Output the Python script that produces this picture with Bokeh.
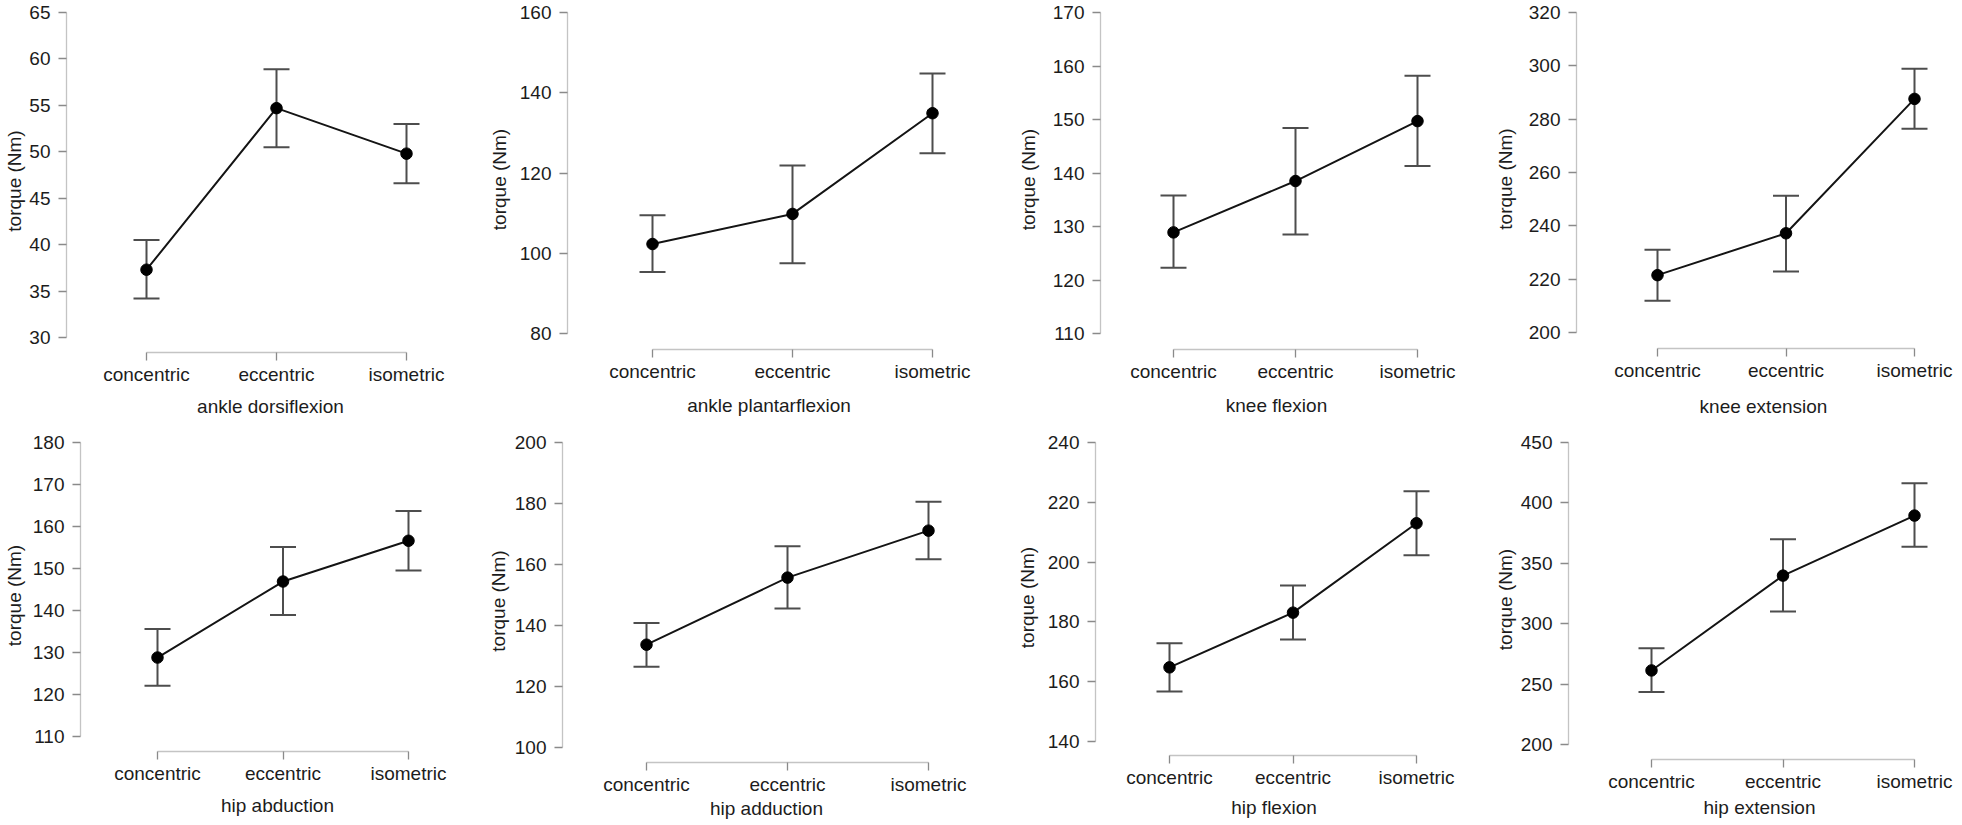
from bokeh.plotting import figure
from bokeh.layouts import column, row
from bokeh.models import FixedTicker, Whisker, TeeHead, ColumnDataSource
from bokeh.embed import file_html
from bokeh.resources import INLINE

# ---------------- data ----------------
conditions = ["concentric", "eccentric", "isometric"]
movements = ["ankle dorsiflexion", "ankle plantarflexion", "knee flexion", "knee extension",
             "hip abduction", "hip adduction", "hip flexion", "hip extension"]
y_label = "torque (Nm)"

ankle_dorsiflexion_mean = [37.3, 54.7, 49.8]
ankle_dorsiflexion_upper = [40.5, 58.9, 53.0]
ankle_dorsiflexion_lower = [34.2, 50.5, 46.6]
ankle_dorsiflexion_ticks = [30, 35, 40, 45, 50, 55, 60, 65]

ankle_plantarflexion_mean = [102.3, 109.8, 134.9]
ankle_plantarflexion_upper = [109.5, 121.9, 144.8]
ankle_plantarflexion_lower = [95.3, 97.5, 124.9]
ankle_plantarflexion_ticks = [80, 100, 120, 140, 160]

knee_flexion_mean = [128.9, 138.5, 149.7]
knee_flexion_upper = [135.8, 148.4, 158.2]
knee_flexion_lower = [122.3, 128.5, 141.3]
knee_flexion_ticks = [110, 120, 130, 140, 150, 160, 170]

knee_extension_mean = [221.5, 237.2, 287.6]
knee_extension_upper = [231.0, 251.3, 298.9]
knee_extension_lower = [211.9, 222.9, 276.4]
knee_extension_ticks = [200, 220, 240, 260, 280, 300, 320]

hip_abduction_mean = [128.8, 146.9, 156.6]
hip_abduction_upper = [135.6, 155.1, 163.7]
hip_abduction_lower = [122.1, 138.9, 149.5]
hip_abduction_ticks = [110, 120, 130, 140, 150, 160, 170, 180]

hip_adduction_mean = [133.7, 155.7, 171.1]
hip_adduction_upper = [140.8, 166.0, 180.6]
hip_adduction_lower = [126.5, 145.6, 161.7]
hip_adduction_ticks = [100, 120, 140, 160, 180, 200]

hip_flexion_mean = [164.8, 183.1, 213.0]
hip_flexion_upper = [172.9, 192.2, 223.7]
hip_flexion_lower = [156.7, 174.1, 202.3]
hip_flexion_ticks = [140, 160, 180, 200, 220, 240]

hip_extension_mean = [261.3, 339.8, 389.5]
hip_extension_upper = [279.6, 369.9, 416.3]
hip_extension_lower = [243.4, 310.0, 363.6]
hip_extension_ticks = [200, 250, 300, 350, 400, 450]

means = [ankle_dorsiflexion_mean, ankle_plantarflexion_mean, knee_flexion_mean, knee_extension_mean,
         hip_abduction_mean, hip_adduction_mean, hip_flexion_mean, hip_extension_mean]
uppers = [ankle_dorsiflexion_upper, ankle_plantarflexion_upper, knee_flexion_upper, knee_extension_upper,
          hip_abduction_upper, hip_adduction_upper, hip_flexion_upper, hip_extension_upper]
lowers = [ankle_dorsiflexion_lower, ankle_plantarflexion_lower, knee_flexion_lower, knee_extension_lower,
          hip_abduction_lower, hip_adduction_lower, hip_flexion_lower, hip_extension_lower]
ticks = [ankle_dorsiflexion_ticks, ankle_plantarflexion_ticks, knee_flexion_ticks, knee_extension_ticks,
         hip_abduction_ticks, hip_adduction_ticks, hip_flexion_ticks, hip_extension_ticks]

# ---------------- layout (page pixels) ----------------
FONT = "Liberation Sans"
FS = 19
HALF_BOX = 13.5          # half of the text box height Bokeh reserves for a 19px label
TICK_STANDOFF = 3
COL_X = [0, 484, 980, 1462]
COL_W = [484, 496, 482, 498]
ROW_Y = [0, 424]
ROW_H = [424, 400]
# per panel: y-axis x, first tick x, last tick x, top tick y, bottom tick y, x-axis y,
#            y-label distance, x-label distance
panel_geo = [
    (66, 146, 406, 12, 337, 352, 52, 60),
    (567, 652, 932, 12, 333, 349, 68, 62),
    (1100, 1173, 1417, 12, 333, 349, 72, 62),
    (1576, 1657, 1914, 12, 332, 348, 71, 64),
    (80, 157, 408, 442, 736, 751, 66, 60),
    (562, 646, 928, 442, 747, 762, 64, 52),
    (1095, 1169, 1416, 442, 741, 755, 68, 57),
    (1568, 1651, 1914, 442, 744, 759, 63, 54),
]

AXIS_COL = "#c4c4c4"
TICK_COL = "#8a8a8a"
TEXT_COL = "#1c1c1c"
BAR_COL = "#4d4d4d"


def make_panel(i):
    c, r = i % 4, i // 4
    ax_x, t1, t3, ty_top, ty_bot, ax_y, ydist, xdist = panel_geo[i]
    W, H = COL_W[c], ROW_H[r]
    L = ax_x - COL_X[c]
    R = 10
    TT = ty_top - ROW_Y[r]
    BT = ty_bot - ROW_Y[r]
    FB = ax_y - ROW_Y[r]
    T = TT - 3
    B = H - FB

    xs = (t3 - t1) / 2.0
    FW = W - L - R
    x0 = 1 - (t1 - ax_x) / xs
    x1 = x0 + FW / xs
    yt = ticks[i]
    lo, hi = min(yt), max(yt)
    ys = (BT - TT) / (hi - lo)
    y1 = hi + (TT - T) / ys
    y0 = lo - (FB - BT) / ys

    p = figure(width=W, height=H, x_range=(x0, x1), y_range=(y0, y1),
               min_border_left=L, min_border_right=R, min_border_top=T, min_border_bottom=B,
               toolbar_location=None, output_backend="svg")
    p.frame_align = False
    p.outline_line_color = None
    p.xgrid.visible = False
    p.ygrid.visible = False
    p.background_fill_color = "white"
    p.border_fill_color = "white"

    xs_pos = [1, 2, 3]
    src = ColumnDataSource(dict(x=xs_pos, mean=means[i], upper=uppers[i], lower=lowers[i]))

    wh = Whisker(base="x", upper="upper", lower="lower", source=src,
                 line_color=BAR_COL, line_width=2,
                 upper_head=TeeHead(size=26, line_color=BAR_COL, line_width=2),
                 lower_head=TeeHead(size=26, line_color=BAR_COL, line_width=2),
                 level="underlay")
    p.add_layout(wh)
    p.line("x", "mean", source=src, line_color="#141414", line_width=2)
    p.scatter("x", "mean", source=src, size=11.5, fill_color="black", line_color="black")

    xa = p.xaxis[0]
    xa.ticker = FixedTicker(ticks=xs_pos)
    xa.major_label_overrides = {k: v for k, v in zip(xs_pos, conditions)}
    xa.bounds = (1, 3)
    xa.axis_label = movements[i]
    xa.major_label_standoff = TICK_STANDOFF
    xa.axis_label_standoff = max(0, int(round(xdist - 8 - TICK_STANDOFF - 3 * HALF_BOX)))

    ya = p.yaxis[0]
    ya.ticker = FixedTicker(ticks=yt)
    ya.bounds = (lo, hi)
    ya.axis_label = y_label
    ya.major_label_standoff = 8
    wlab = max(len(str(t)) for t in yt) * 0.556 * FS
    ya.axis_label_standoff = max(0, int(round(ydist - 16 - wlab - HALF_BOX)))

    for ax in (xa, ya):
        ax.axis_line_color = AXIS_COL
        ax.axis_line_width = 1.3
        ax.major_tick_line_color = TICK_COL
        ax.major_tick_line_width = 1.3
        ax.major_tick_out = 8
        ax.major_tick_in = 0
        ax.minor_tick_line_color = None
        ax.major_label_text_font = FONT
        ax.major_label_text_font_size = f"{FS}px"
        ax.major_label_text_color = TEXT_COL
        ax.axis_label_text_font = FONT
        ax.axis_label_text_font_size = f"{FS}px"
        ax.axis_label_text_font_style = "normal"
        ax.axis_label_text_color = TEXT_COL
    return p


panels = [make_panel(i) for i in range(8)]
layout = column(row(*panels[:4]), row(*panels[4:]))

open("out.html", "w").write(file_html(layout, INLINE))
